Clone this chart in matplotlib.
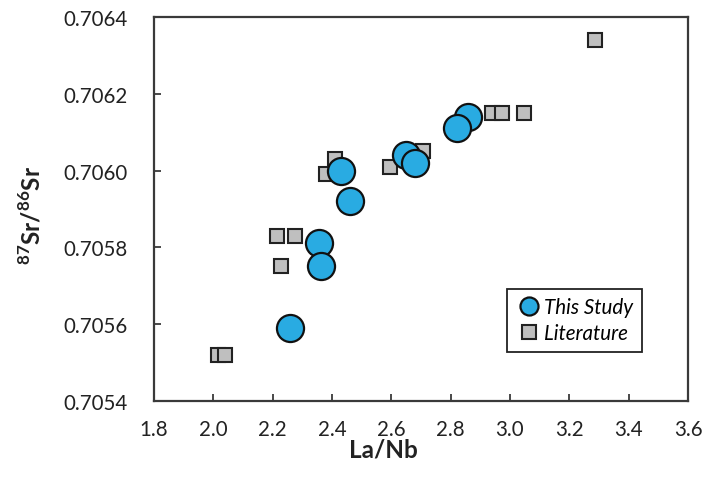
import matplotlib
matplotlib.use("Agg")
import matplotlib.pyplot as plt
from matplotlib.lines import Line2D

plt.rcParams['font.family'] = ['Lato', 'DejaVu Sans']
plt.rcParams['mathtext.fontset'] = 'custom'
plt.rcParams['mathtext.rm'] = 'Lato'
plt.rcParams['mathtext.bf'] = 'Lato:bold'

# This study samples
study_la_nb = [2.857, 2.820, 2.648, 2.679, 2.430, 2.460, 2.357, 2.362, 2.258]
study_sr = [0.70614, 0.70611, 0.70604, 0.70602, 0.70600, 0.70592, 0.70581, 0.70575, 0.70559]

# Literature data
lit_la_nb = [3.288, 2.940, 2.973, 3.047, 2.707, 2.597, 2.409, 2.381, 2.216, 2.275, 2.230, 2.017, 2.039]
lit_sr = [0.70634, 0.70615, 0.70615, 0.70615, 0.70605, 0.70601, 0.70603, 0.70599,
          0.70583, 0.70583, 0.70575, 0.70552, 0.70552]

x_ticks = [1.8, 2.0, 2.2, 2.4, 2.6, 2.8, 3.0, 3.2, 3.4, 3.6]
y_ticks = [0.7054, 0.7056, 0.7058, 0.7060, 0.7062, 0.7064]

blue = '#29abe2'
gray = '#bfbfbf'
spine_col = '#3a3a3a'
text_col = '#222222'

fig = plt.figure(figsize=(7.06, 4.81), dpi=100)
ax = fig.add_axes([0.218, 0.165, 0.7565, 0.797])

ax.plot(lit_la_nb, lit_sr, linestyle='none', marker='s', markersize=9.5,
        markerfacecolor=gray, markeredgecolor='#222222', markeredgewidth=1.5, zorder=2)
ax.plot(study_la_nb, study_sr, linestyle='none', marker='o', markersize=19.5,
        markerfacecolor=blue, markeredgecolor='#111111', markeredgewidth=1.6, zorder=3)

ax.set_xlim(1.8, 3.6)
ax.set_ylim(0.7054, 0.7064)
ax.set_xticks(x_ticks)
ax.set_xticklabels([f"{v:.1f}" for v in x_ticks])
ax.set_yticks(y_ticks)
ax.set_yticklabels([f"{v:.4f}" for v in y_ticks])

for s in ax.spines.values():
    s.set_linewidth(1.6)
    s.set_color(spine_col)

ax.tick_params(direction='in', length=5, width=1.3, color=spine_col,
               labelsize=14.8, labelcolor=text_col)
ax.tick_params(axis='x', pad=13)
ax.tick_params(axis='y', pad=19)

ax.set_xlabel('La/Nb', fontsize=17.5, fontweight='bold', color=text_col)
ax.xaxis.set_label_coords(0.429, -0.095)
ax.set_ylabel(r'$^{\mathbf{87}}$Sr/$^{\mathbf{86}}$Sr', fontsize=17.5, fontweight='bold',
              color=text_col)
ax.yaxis.set_label_coords(-0.204, 0.487)

handles = [
    Line2D([], [], linestyle='none', marker='o', markersize=13, markerfacecolor=blue,
           markeredgecolor='#111111', markeredgewidth=1.6, label='This Study'),
    Line2D([], [], linestyle='none', marker='s', markersize=9.5, markerfacecolor=gray,
           markeredgecolor='#222222', markeredgewidth=1.5, label='Literature'),
]
leg = ax.legend(handles=handles, loc='lower right', bbox_to_anchor=(0.913, 0.128),
                prop={'style': 'italic', 'size': 14.8}, frameon=True, fancybox=False,
                framealpha=1, edgecolor='#222222', handletextpad=0.1,
                handlelength=1.3, borderpad=0.4, labelspacing=0.3, borderaxespad=0)
leg.get_frame().set_linewidth(1.3)

fig.savefig('out.png', dpi=100)
